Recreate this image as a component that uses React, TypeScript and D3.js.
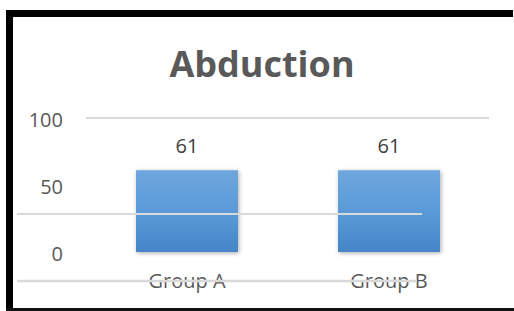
import React, { useRef, useEffect } from 'react'
import * as d3 from 'd3'

const title = 'Abduction'
const categories = ['Group A', 'Group B']
const values = [61, 61]
const yTicks = [0, 50, 100]

export default function App() {
    const svgRef = useRef<SVGSVGElement | null>(null)

    useEffect(() => {
        if (!svgRef.current) return
        const width = 514
        const height = 311
        const svg = d3.select(svgRef.current)
        svg.attr('width', width).attr('height', height)
        svg.selectAll('*').remove()

        const font = '"Open Sans", "Liberation Sans", sans-serif'

        const x = d3.scaleBand<string>()
            .domain(categories)
            .range([86, 490])
            .paddingInner(0.495)
            .paddingOuter(0.2475)
        const y = d3.scaleLinear().domain([0, 100]).range([252, 118])

        const defs = svg.append('defs')
        const grad = defs.append('linearGradient')
            .attr('id', 'barGrad')
            .attr('x1', 0).attr('y1', 0).attr('x2', 0).attr('y2', 1)
        grad.append('stop').attr('offset', '0%').attr('stop-color', '#6ea6dc')
        grad.append('stop').attr('offset', '50%').attr('stop-color', '#5a9ad8')
        grad.append('stop').attr('offset', '100%').attr('stop-color', '#4686c8')

        const shadow = defs.append('filter').attr('id', 'barShadow')
            .attr('x', '-20%').attr('y', '-20%').attr('width', '140%').attr('height', '140%')
        shadow.append('feDropShadow')
            .attr('dx', 1).attr('dy', 1)
            .attr('stdDeviation', 2)
            .attr('flood-color', '#000')
            .attr('flood-opacity', 0.35)

        svg.append('rect').attr('width', width).attr('height', height).attr('fill', '#fff')

        // frame (no right edge in the picture)
        svg.append('rect').attr('x', 6).attr('y', 10).attr('width', width - 7).attr('height', 7).attr('fill', '#000')
        svg.append('rect').attr('x', 6).attr('y', 10).attr('width', 7).attr('height', height - 10).attr('fill', '#000')
        svg.append('rect').attr('x', 6).attr('y', 308).attr('width', width - 6).attr('height', 3).attr('fill', '#111')

        svg.append('text')
            .attr('x', 262).attr('y', 77)
            .attr('text-anchor', 'middle')
            .attr('fill', '#595959')
            .style('font-family', font)
            .style('font-size', '36px')
            .style('font-weight', 700)
            .text(title)

        // top gridline sits where it should
        svg.append('line')
            .attr('x1', 86).attr('x2', 489)
            .attr('y1', y(100)).attr('y2', y(100))
            .attr('stroke', '#d9d9d9').attr('stroke-width', 2)

        // y tick labels
        svg.selectAll('text.ytick')
            .data(yTicks)
            .join('text')
            .attr('class', 'ytick')
            .attr('x', 63)
            .attr('y', d => y(d) + 9)
            .attr('text-anchor', 'end')
            .attr('fill', '#595959')
            .style('font-family', font)
            .style('font-size', '20px')
            .text(d => d)

        // bars
        svg.selectAll('rect.bar')
            .data(values)
            .join('rect')
            .attr('class', 'bar')
            .attr('x', (d, i) => x(categories[i])!)
            .attr('y', d => y(d))
            .attr('width', x.bandwidth())
            .attr('height', d => y(0) - y(d))
            .attr('fill', 'url(#barGrad)')
            .attr('filter', 'url(#barShadow)')

        // lower gridlines are drawn shifted down, over the bars
        const shift = 29
        svg.append('line')
            .attr('x1', 17).attr('x2', 422)
            .attr('y1', y(50) + shift).attr('y2', y(50) + shift)
            .attr('stroke', '#d9d9d9').attr('stroke-width', 2)

        // value labels
        svg.selectAll('text.val')
            .data(values)
            .join('text')
            .attr('class', 'val')
            .attr('x', (d, i) => x(categories[i])! + x.bandwidth() / 2)
            .attr('y', d => y(d) - 17)
            .attr('text-anchor', 'middle')
            .attr('fill', '#404040')
            .style('font-family', font)
            .style('font-size', '20px')
            .text(d => d)

        // category labels
        svg.selectAll('text.cat')
            .data(categories)
            .join('text')
            .attr('class', 'cat')
            .attr('x', d => x(d)! + x.bandwidth() / 2)
            .attr('y', y(0) + 36)
            .attr('text-anchor', 'middle')
            .attr('fill', '#595959')
            .style('font-family', font)
            .style('font-size', '20px')
            .text(d => d)

        svg.append('line')
            .attr('x1', 17).attr('x2', 417)
            .attr('y1', y(0) + shift).attr('y2', y(0) + shift)
            .attr('stroke', '#d9d9d9').attr('stroke-width', 2.5)
    }, [])

    return (
        <svg ref={svgRef} style={{ position: 'absolute', left: 0, top: 0, display: 'block' }} />
    )
}
